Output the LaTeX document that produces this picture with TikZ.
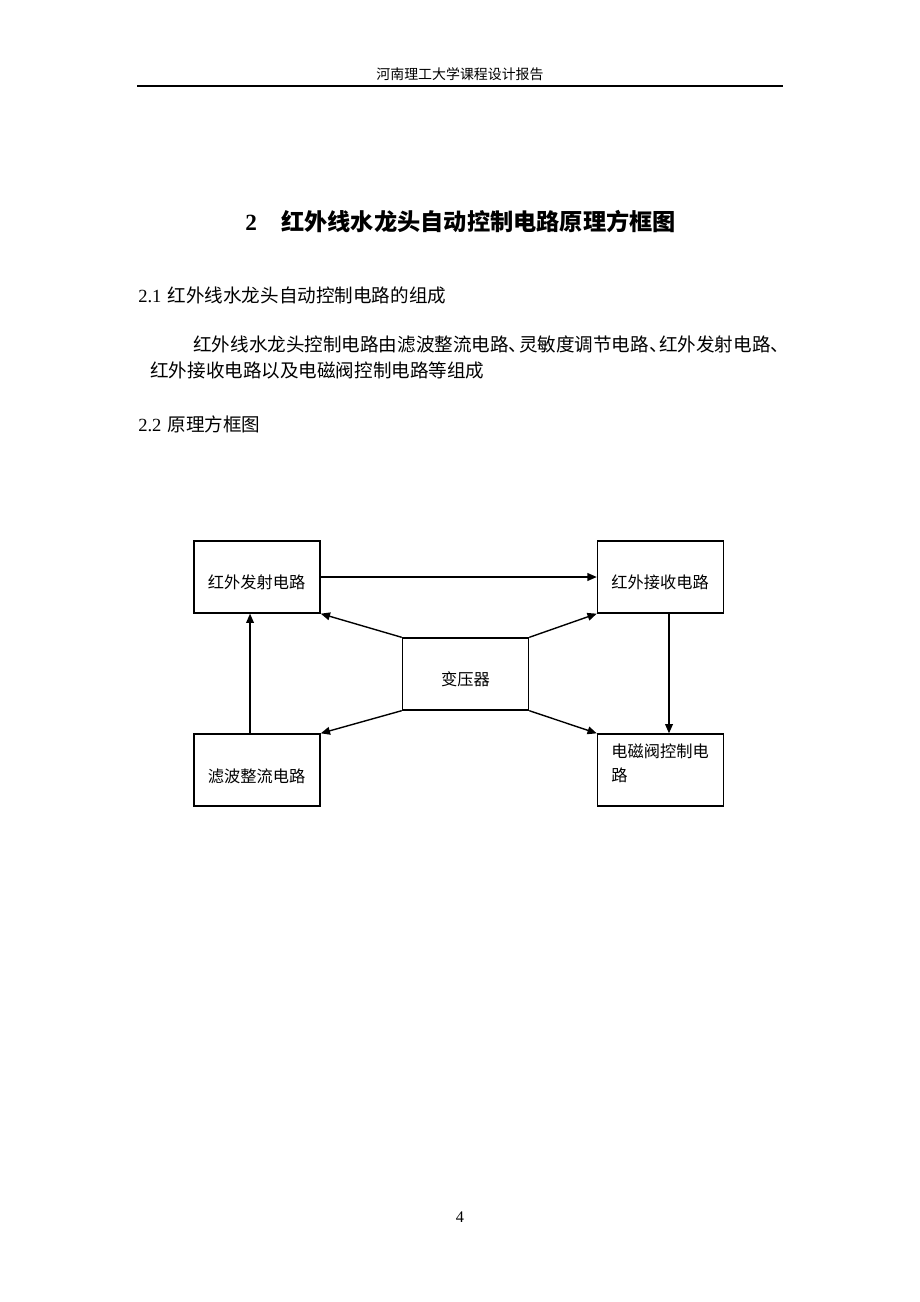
\documentclass[tikz,border=0pt]{standalone}
\usepackage{fontspec}
\setmainfont{Liberation Serif}
\newfontfamily\cjk{Noto Sans CJK SC}
\usetikzlibrary{arrows.meta, positioning}

\begin{document}
\begin{tikzpicture}[x=0.6464pt, y=-0.6464pt]
  \tikzset{blk/.style={draw, line width=0.9pt, inner xsep=9pt, inner ysep=3pt, text width=63.5pt,
      minimum height=46.5pt, align=left, text height=16.5pt, text depth=1pt,
      font=\cjk\fontsize{10.5}{15.5}\selectfont},
    arr/.style={line width=0.9pt, -{Triangle[length=6pt, width=5pt]}},
    txt/.style={inner sep=0pt, anchor=base west, font=\fontsize{12}{14}\selectfont}}
\useasboundingbox[fill=white] (0,0) rectangle (920,1302);
% page head
\node[inner sep=0pt, anchor=base, font=\cjk\fontsize{9}{11}\selectfont] (head) at (460,79) {河南理工大学课程设计报告};
\draw[line width=1.2pt] (137,86) -- (783,86);
\node[txt, font=\fontsize{15}{18}\selectfont\bfseries] (title) at (245,230) {2\hspace{15.8pt}{\cjk\bfseries 红外线水龙头自动控制电路原理方框图}};
\node[txt] (sec1) at (138,302) {2.1\hspace{4pt}{\cjk 红外线水龙头自动控制电路的组成}};
\node[txt, font=\cjk\fontsize{12}{14}\selectfont] (par1) at (193,351) {红外线水龙头控制电路由滤波整流电路\makebox[0.55em][l]{、}灵敏度调节电路\makebox[0.55em][l]{、}红外发射电路、};
\node[txt, font=\cjk\fontsize{12}{14}\selectfont] (par2) at (150,377) {红外接收电路以及电磁阀控制电路等组成};
\node[txt] (sec2) at (138,431) {2.2\hspace{4pt}{\cjk 原理方框图}};
% blocks
\node[blk] (fashe) at (257,577) {红外发射电路};
\node[blk] (jieshou) at (660.5,577) {红外接收电路};
\node[blk, align=center] (byq) at (465.5,674) {变压器};
\node[blk] (lvbo) at (257,770) {滤波整流电路};
\node[blk, text height=9pt, text depth=25pt] (dcf) at (660.5,770) {电磁阀控制电\\路};
\draw[arr] (fashe.east) -- (jieshou.west);
\draw[arr] (byq.north west) -- (fashe.south east);
\draw[arr] (byq.north east) -- (jieshou.south west);
\draw[arr] (byq.south west) -- (lvbo.north east);
\draw[arr] (byq.south east) -- (dcf.north west);
\draw[arr] ([xshift=-4.5pt]lvbo.north) -- ([xshift=-4.5pt]fashe.south);
\draw[arr] ([xshift=5.5pt]jieshou.south) -- ([xshift=5.5pt]dcf.north);
\node[inner sep=0pt, anchor=base, font=\fontsize{10.5}{12}\selectfont] (pageno) at (460,1222) {4};
\end{tikzpicture}
\end{document}
